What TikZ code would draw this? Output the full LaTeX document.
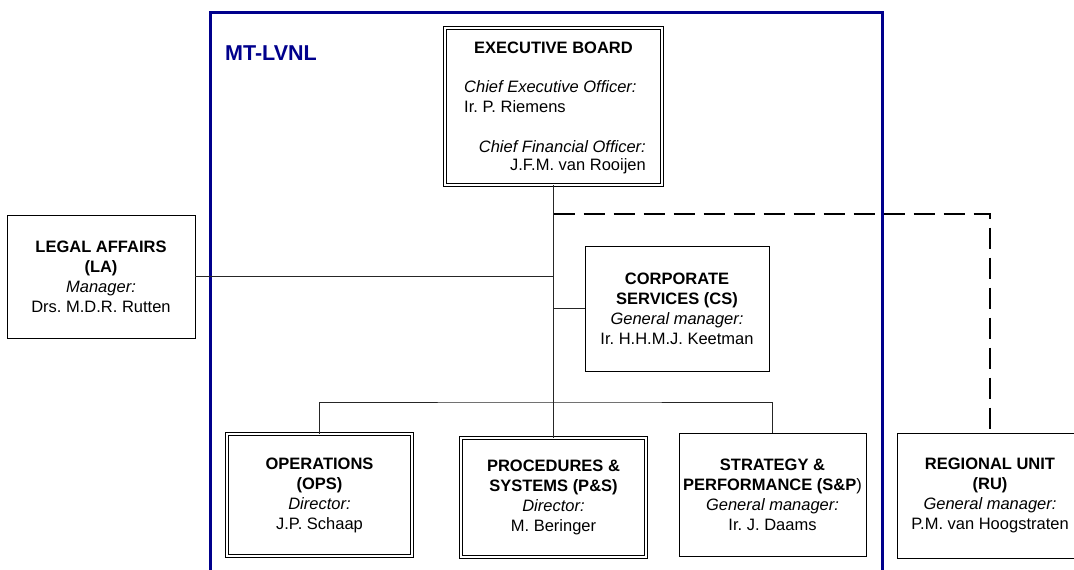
\documentclass[tikz,border=0pt]{standalone}
\usepackage{fontspec}
\setmainfont{Liberation Sans}
\frenchspacing
\definecolor{frameblue}{RGB}{0,0,140}
\begin{document}
\begin{tikzpicture}[x=1pt,y=-1pt,
  txt/.style={font=\fontsize{16.5}{20}\selectfont, align=center},
  box/.style={draw=black, line width=0.9pt, inner sep=0pt, txt},
  dbox/.style={box, double, double distance=2.2pt, line width=0.8pt},
  conn/.style={draw=black!85, line width=1pt},
  dashconn/.style={draw=black, line width=2.2pt, dash pattern=on 21pt off 9pt}
]
\useasboundingbox (0,0) rectangle (1074,570);
\begin{scope}
\clip (0,0) rectangle (1074,570);
% frame
\draw[frameblue, line width=3pt] (210,580) -- (210,12) -- (882,12) -- (882,580);
\node[anchor=west, text=frameblue, font=\fontsize{21.5}{24}\selectfont\bfseries, inner sep=0pt] (mt) at (225,53) {MT-LVNL};

% executive board
\node[dbox, minimum width=217pt, minimum height=157pt] (eb) at (553.5,106.5) {};
\node[txt, font=\fontsize{16.5}{20}\selectfont\bfseries, inner sep=0pt] (ebt) at (553.5,48) {EXECUTIVE BOARD};
\node[txt, anchor=west, inner sep=0pt, font=\fontsize{16.5}{20}\selectfont\itshape] (ceo) at (464,87) {Chief Executive Officer:};
\node[txt, anchor=west, inner sep=0pt] (ceon) at (464,107) {Ir. P. Riemens};
\node[txt, anchor=east, inner sep=0pt, font=\fontsize{16.5}{20}\selectfont\itshape] (cfo) at (646,147) {Chief Financial Officer:};
\node[txt, anchor=east, inner sep=0pt] (cfon) at (646,166) {J.F.M. van Rooijen};

% other boxes
\node[box, minimum width=188pt, minimum height=123pt] (la) at (101,276.5)
  {\textbf{LEGAL AFFAIRS}\\\textbf{(LA)}\\\textit{Manager:}\\Drs. M.D.R. Rutten};
\node[box, minimum width=184pt, minimum height=125pt] (cs) at (677,308.5)
  {\textbf{CORPORATE}\\\textbf{SERVICES (CS)}\\\textit{General manager:}\\Ir. H.H.M.J. Keetman};
\node[dbox, minimum width=185pt, minimum height=122pt] (ops) at (319.5,495)
  {\textbf{OPERATIONS}\\\textbf{(OPS)}\\\textit{Director:}\\J.P. Schaap};
\node[dbox, minimum width=185pt, minimum height=119pt] (ps) at (553.5,497.5)
  {\textbf{PROCEDURES \&}\\\textbf{SYSTEMS (P\&S)}\\\textit{Director:}\\M. Beringer};
\node[box, minimum width=187pt, minimum height=123pt] (sp) at (772.5,494.5)
  {\textbf{STRATEGY \&}\\\textbf{PERFORMANCE (S\&P})\\\textit{General manager:}\\Ir. J. Daams};
\node[box, minimum width=186pt, minimum height=125pt] (ru) at (990,495.5)
  {\textbf{REGIONAL UNIT}\\\textbf{(RU)}\\\textit{General manager:}\\P.M. van Hoogstraten};

% connectors
\coordinate (bus) at (553.5,402);
\coordinate (dj) at (553.5,214);
\draw[conn] (eb.south) -- (bus);
\draw[conn] (ops.north) |- (bus) -| (sp.north);
\draw[conn] (bus) -- (ps.north);
\draw[conn] (la.east) -- (la.east -| eb.south);
\draw[conn] (cs.west) -- (cs.west -| eb.south);
\draw[dashconn] (dj) -| (ru.north);
\end{scope}
\end{tikzpicture}
\end{document}
